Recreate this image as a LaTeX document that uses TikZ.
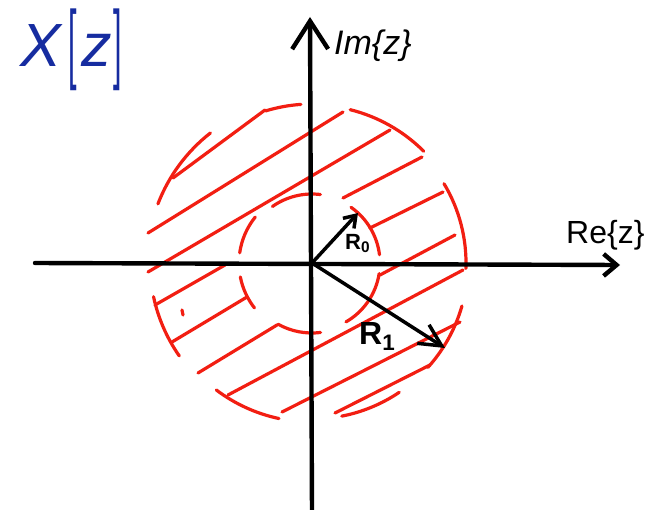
\documentclass[tikz,border=0pt]{standalone}
\usepackage{fontspec}
\setmainfont{Liberation Sans}
\usepackage{graphicx}
\usepackage{xcolor}
\usepackage{tikz}
\usetikzlibrary{arrows.meta}

\definecolor{hatchred}{RGB}{242,30,18}
\definecolor{xzblue}{RGB}{22,44,160}

\begin{document}
\begin{tikzpicture}[
  x=1pt, y=1pt,
  axisline/.style={line width=4.4pt, line cap=round, black},
  radline/.style={line width=3.5pt, line cap=round, black},
  hatch/.style={line width=3.2pt, line cap=round, hatchred},
  lbl/.style={inner sep=0pt, anchor=base west, text=black}
]
\useasboundingbox (-312,-246) rectangle (335,263);

% origin and axis ends
\coordinate (O) at (0,0);
\coordinate (xmin) at (-277,0);
\coordinate (xmax) at (308,-2);
\coordinate (ymin) at (0,-250);
\coordinate (ymax) at (-2,246);
\coordinate (r0tip) at (46,50);
\coordinate (r1tip) at (133,-85);

% hatching of the ring
\foreach \xa/\ya/\xb/\yb in {-139/85/-47/153, -164/30/31/151, -164/-9/78/133,
    31/65/110/106, 58/35/131/71, 68/-12/143/28, -157/-42/-87/-2,
    -140/-79/-65/-34, -114/-110/-35/-62, -84/-132/151/-7,
    -30/-149/148/-59, 23/-150/118/-102, -130/-47/-129/-52}
  \draw[hatch] (\xa,\ya) -- (\xb,\yb);

% outer circle, dashed by hand
\foreach \r/\a/\b in {159/94/107, 158/45/76, 154/-2/31, 156/-42/-16,
    156/-79/-56, 159/233/258, 162/192/215, 165/128/159}
  \draw[hatch] (O) ++(\a:\r) arc[start angle=\a, end angle=\b, radius=\r];

% inner circle
\foreach \r/\a/\b in {69/83/125, 68/7/55, 68/-60/-9, 70/241/277,
    73/191/218, 73/141/172}
  \draw[hatch] (O) ++(\a:\r) arc[start angle=\a, end angle=\b, radius=\r];

% axes
\draw[axisline, -{Straight Barb[length=13pt,width=22pt]}] (xmin) -- (xmax);
\draw[axisline, -{Straight Barb[length=28pt,width=36pt]}] (ymin) -- (ymax);

% radii
\draw[radline, -{Straight Barb[length=11pt,width=15pt]}] (O) -- (r0tip);
\draw[radline, -{Straight Barb[length=22pt,width=22pt]}] (O) -- (r1tip);

\node[lbl, font=\fontsize{22}{22}\selectfont\bfseries] (R0) at (33,14) {R\textsubscript{0}};
\node[lbl, font=\fontsize{32}{32}\selectfont\bfseries] (R1) at (47,-81) {R\textsubscript{1}};
\node[lbl, font=\fontsize{34}{34}\selectfont\itshape] (Im) at (22,208) {Im\{z\}};
\node[lbl, font=\fontsize{32}{32}\selectfont] (Re) at (254,20) {Re\{z\}};

\node[lbl, text=xzblue, font=\fontsize{61}{61}\selectfont\itshape] (Xz) at (-292,196)
  {X\kern 8pt\raisebox{-6pt}{\scalebox{0.5}[1.44]{\upshape[}}\kern 4pt z\kern 2pt\raisebox{-6pt}{\scalebox{0.5}[1.44]{\upshape]}}};

\end{tikzpicture}
\end{document}
